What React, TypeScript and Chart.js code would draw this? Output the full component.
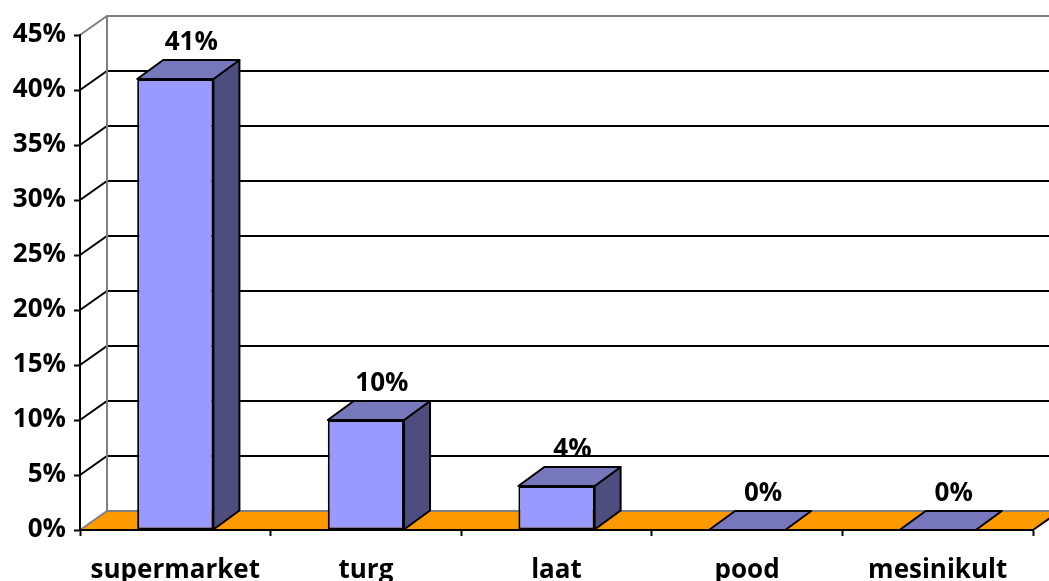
import React, { useEffect, useRef } from "react";
import { Chart, registerables } from "chart.js";

Chart.register(...registerables);

const categories = ["supermarket", "turg", "laat", "pood", "mesinikult"];
const values = [41, 10, 4, 0, 0];
const yMin = 0;
const yMax = 45;
const yStep = 5;

const FONT = "'Open Sans', sans-serif";
const DEPTH_X = 27;
const DEPTH_Y = -19;
const BAR_DX = 26;
const BAR_DY = -19;
const FRONT = "#9999FF";
const TOP = "#7777BB";
const SIDE = "#4D4D80";
const FLOOR = "#FF9900";
const GRAY = "#808080";

const wallsPlugin = {
  id: "walls3d",
  beforeDraw(chart: any) {
    const { ctx, chartArea, scales } = chart;
    const ys = scales.y;
    const L = chartArea.left;
    const R = chartArea.right;
    const y0 = ys.getPixelForValue(yMin);
    const yT = ys.getPixelForValue(yMax);
    ctx.save();
    // floor
    ctx.beginPath();
    ctx.moveTo(L, y0);
    ctx.lineTo(R, y0);
    ctx.lineTo(R + DEPTH_X, y0 + DEPTH_Y);
    ctx.lineTo(L + DEPTH_X, y0 + DEPTH_Y);
    ctx.closePath();
    ctx.fillStyle = FLOOR;
    ctx.fill();
    // gridlines
    ctx.lineWidth = 2;
    for (let v = yMin + yStep; v < yMax; v += yStep) {
      const y = ys.getPixelForValue(v);
      ctx.strokeStyle = "#000";
      ctx.beginPath();
      ctx.moveTo(L, y);
      ctx.lineTo(L + DEPTH_X, y + DEPTH_Y);
      ctx.lineTo(R + DEPTH_X + 40, y + DEPTH_Y);
      ctx.stroke();
    }
    // gray wall edges
    ctx.strokeStyle = GRAY;
    ctx.beginPath();
    ctx.moveTo(L, yT);
    ctx.lineTo(L + DEPTH_X, yT + DEPTH_Y);
    ctx.lineTo(R + DEPTH_X + 40, yT + DEPTH_Y);
    ctx.stroke();
    ctx.beginPath();
    ctx.moveTo(L + DEPTH_X, yT + DEPTH_Y);
    ctx.lineTo(L + DEPTH_X, y0 + DEPTH_Y);
    ctx.lineTo(R + DEPTH_X + 40, y0 + DEPTH_Y);
    ctx.stroke();
    ctx.beginPath();
    ctx.moveTo(L, y0);
    ctx.lineTo(L + DEPTH_X, y0 + DEPTH_Y);
    ctx.stroke();
    // floor right edge
    ctx.strokeStyle = "#000";
    ctx.beginPath();
    ctx.moveTo(R, y0);
    ctx.lineTo(R + DEPTH_X, y0 + DEPTH_Y);
    ctx.stroke();
    ctx.restore();
  },
};

const barsPlugin = {
  id: "bars3d",
  afterDatasetsDraw(chart: any) {
    const { ctx } = chart;
    const meta = chart.getDatasetMeta(0);
    ctx.save();
    ctx.lineWidth = 2;
    ctx.lineJoin = "round";
    ctx.strokeStyle = "#000";
    meta.data.forEach((bar: any, i: number) => {
      const { x, y, base, width } = bar.getProps(["x", "y", "base", "width"], true);
      const left = x - width / 2;
      const right = x + width / 2;
      // side face
      if (base - y > 0.5) {
        ctx.beginPath();
        ctx.moveTo(right, y);
        ctx.lineTo(right + BAR_DX, y + BAR_DY);
        ctx.lineTo(right + BAR_DX, base + BAR_DY);
        ctx.lineTo(right, base);
        ctx.closePath();
        ctx.fillStyle = SIDE;
        ctx.fill();
        ctx.stroke();
      }
      // top face
      ctx.beginPath();
      ctx.moveTo(left, y);
      ctx.lineTo(right, y);
      ctx.lineTo(right + BAR_DX, y + BAR_DY);
      ctx.lineTo(left + BAR_DX, y + BAR_DY);
      ctx.closePath();
      ctx.fillStyle = TOP;
      ctx.fill();
      ctx.stroke();
      // value label
      ctx.fillStyle = "#000";
      ctx.font = `bold 26px ${FONT}`;
      ctx.textAlign = "center";
      ctx.textBaseline = "middle";
      ctx.fillText(`${values[i]}%`, x + BAR_DX / 2 + 3, y + BAR_DY - 17);
    });
    ctx.restore();
  },
};

export default function App() {
  const ref = useRef<HTMLCanvasElement | null>(null);

  useEffect(() => {
    document.body.style.margin = "0";
    const canvas = ref.current;
    if (!canvas) return;
    const chart = new Chart(canvas, {
      type: "bar",
      data: {
        labels: categories,
        datasets: [
          {
            data: values,
            backgroundColor: FRONT,
            borderColor: "#000",
            borderWidth: 2,
            borderSkipped: false,
            categoryPercentage: 1,
            barPercentage: 0.4,
          },
        ],
      },
      options: {
        responsive: false,
        animation: false,
        devicePixelRatio: 1,
        layout: { padding: { top: 35, right: 16, bottom: 0, left: 0 } },
        plugins: {
          legend: { display: false },
          tooltip: { enabled: false },
          title: { display: false },
        },
        scales: {
          x: {
            type: "category",
            offset: true,
            grid: {
              display: true,
              drawOnChartArea: false,
              drawTicks: true,
              tickLength: 6,
              tickWidth: 2,
              tickColor: "#000",
              offset: true,
            },
            border: { display: true, color: "#000", width: 2 },
            ticks: {
              color: "#000",
              font: { family: FONT, size: 26, weight: "bold" },
              padding: 19,
              maxRotation: 0,
              autoSkip: false,
            },
            afterFit: (s: any) => {
              s.height = 51;
            },
          },
          y: {
            min: yMin,
            max: yMax,
            grid: {
              display: true,
              drawOnChartArea: false,
              drawTicks: true,
              tickLength: 6,
              tickWidth: 2,
              tickColor: "#000",
            },
            border: { display: true, color: "#000", width: 2 },
            ticks: {
              stepSize: yStep,
              color: "#000",
              font: { family: FONT, size: 26, weight: "bold" },
              padding: 8,
              callback: (v: any) => `${v}%`,
            },
            afterFit: (s: any) => {
              s.width = 80;
            },
          },
        },
      },
      plugins: [wallsPlugin, barsPlugin],
    });
    return () => chart.destroy();
  }, []);

  return (
    <div style={{ width: 1049, height: 581, overflow: "hidden" }}>
      <canvas ref={ref} width={1049} height={581} style={{ display: "block" }} />
    </div>
  );
}
